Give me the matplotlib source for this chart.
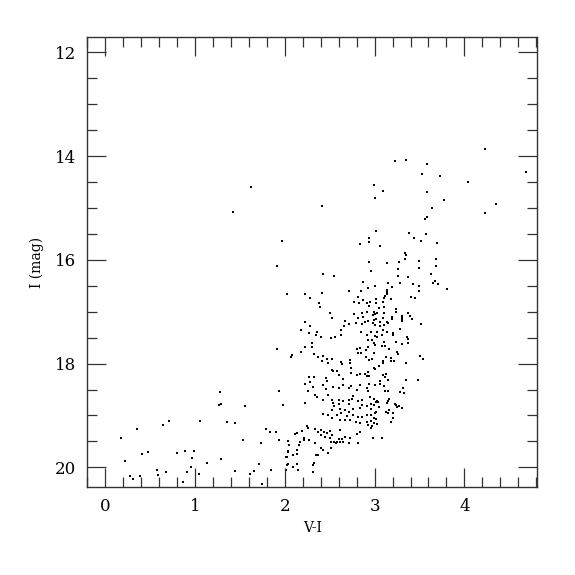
import matplotlib
matplotlib.use('Agg')
import matplotlib.pyplot as plt
from matplotlib.ticker import MultipleLocator

# upper giant branch / bright stars
bright = [(1.42,15.08),(1.62,14.60),(1.97,15.64),(2.41,14.97),(3.23,14.10),(3.35,14.08),(3.58,14.16),
	(3.53,14.35),(3.73,14.39),(4.23,13.87),(4.04,14.50),(4.69,14.31),(4.35,14.93),(4.23,15.10),(2.99,14.56),
	(3.09,14.68),(3.00,14.81),(3.58,14.70),(3.77,14.85),(3.64,15.00),(3.58,15.18),(3.56,15.22),(3.02,15.45),
	(2.94,15.58),(2.94,15.66),(2.84,15.70),(3.38,15.49),(3.44,15.58),(3.57,15.51),(3.52,15.64),(3.70,15.68),
	(3.06,15.74),(3.34,15.87),(3.35,15.91)]

# 16 - 17.25 mag
upper_rgb = [(3.34,15.99),(3.68,15.99),(2.94,16.05),(3.50,16.03),(3.14,16.07),(3.27,16.05),(3.68,16.12),
	(3.49,16.16),(3.26,16.18),(2.96,16.22),(3.63,16.28),(3.26,16.32),(3.37,16.34),(3.67,16.40),(3.65,16.45),
	(3.71,16.47),(3.81,16.57),(3.15,16.45),(3.28,16.45),(3.43,16.47),(3.49,16.51),(3.00,16.51),(3.19,16.53),
	(3.50,16.60),(3.14,16.59),(3.14,16.62),(3.14,16.66),(3.12,16.70),(3.18,16.76),(3.11,16.74),(3.40,16.72),
	(3.45,16.74),(3.02,16.76),(2.95,16.82),(3.02,16.84),(3.09,16.82),(3.10,16.91),(3.05,16.93),(2.99,17.01),
	(3.03,17.03),(3.01,17.05),(2.98,17.07),(3.10,17.03),(3.09,17.12),(3.02,17.14),(2.99,17.16),(3.06,17.20),
	(3.14,17.20),(3.19,17.10),(3.19,17.14),(3.24,16.95),(3.24,17.01),(3.30,17.09),(3.30,17.12),(3.30,17.16),
	(3.37,17.03),(3.39,17.09),(3.42,17.14),(3.52,17.24),(1.91,16.12),(2.02,16.66),(2.42,16.28),(2.55,16.32),
	(2.22,16.66),(2.28,16.74),(2.41,16.64),(2.38,16.84),(2.39,16.91),(2.87,16.43),(2.93,16.55),(2.71,16.60),
	(2.85,16.60),(2.81,16.72),(2.77,16.82),(2.83,16.84),(2.87,16.78),(2.92,16.84),(2.94,16.88),(2.50,17.03),
	(2.52,17.12),(2.77,17.05),(2.86,17.03),(2.87,17.10),(2.82,17.12),(2.92,17.01),(2.93,17.18),(2.67,17.18),
	(2.23,17.20),(2.89,17.20),(2.71,17.24)]

# red side, 17.2 - 19.5 mag
red_clump = [(2.98,17.22),(3.01,17.26),(3.06,17.28),(3.10,17.26),(3.15,17.22),(3.30,17.18),(2.96,17.39),
	(3.03,17.39),(3.09,17.36),(3.14,17.39),(3.20,17.41),(3.20,17.45),(3.28,17.34),(3.01,17.47),(3.08,17.45),
	(3.03,17.49),(3.36,17.49),(3.37,17.53),(2.97,17.55),(2.99,17.61),(3.10,17.59),(3.24,17.59),(3.31,17.63),
	(3.37,17.61),(3.01,17.65),(3.08,17.67),(3.12,17.67),(3.16,17.72),(2.99,17.80),(3.25,17.78),(3.26,17.82),
	(3.51,17.86),(3.54,17.92),(3.13,17.88),(3.18,17.90),(3.22,17.95),(2.97,17.92),(3.09,17.95),(3.09,17.99),
	(3.05,18.05),(3.18,17.95),(3.35,17.99),(2.99,18.09),(3.00,18.11),(3.09,18.22),(3.12,18.26),(3.13,18.20),
	(3.15,18.32),(3.06,18.34),(3.35,18.32),(3.48,18.32),(3.00,18.42),(3.06,18.40),(3.10,18.44),(3.32,18.48),
	(3.28,18.55),(3.33,18.57),(3.12,18.53),(3.15,18.53),(2.99,18.69),(3.03,18.72),(3.15,18.72),(3.16,18.69),
	(3.23,18.78),(3.02,18.74),(3.04,18.74),(2.96,18.78),(2.99,18.80),(3.05,18.84),(3.14,18.76),(3.24,18.80),
	(3.27,18.82),(3.25,18.84),(3.30,18.86),(3.13,18.94),(3.16,18.90),(3.20,18.96),(3.15,18.96),(2.96,18.88),
	(3.02,18.94),(3.00,18.96),(2.96,19.00),(2.99,19.05),(3.02,19.07),(2.96,19.11),(2.99,19.15),(3.03,19.17),
	(2.97,19.20),(2.96,19.24),(3.21,19.05),(3.18,19.13),(2.98,19.44),(3.08,19.44)]

# blue side of the branch, 17.2 - 18.8 mag
mid_rgb = [(2.28,17.28),(2.18,17.36),(2.27,17.41),(2.36,17.39),(2.40,17.49),(2.35,17.45),(2.51,17.51),
	(2.56,17.49),(2.63,17.45),(2.63,17.36),(2.66,17.28),(2.79,17.22),(2.86,17.24),(2.85,17.39),(2.91,17.45),
	(2.93,17.55),(2.22,17.68),(2.30,17.61),(2.30,17.68),(2.08,17.84),(2.07,17.88),(2.18,17.78),(2.33,17.82),
	(2.37,17.88),(2.43,17.86),(2.47,17.92),(2.52,17.92),(2.41,17.95),(2.48,17.99),(2.63,17.97),(2.64,18.01),
	(2.73,17.93),(2.73,17.99),(2.80,17.72),(2.84,17.70),(2.82,17.80),(2.85,17.80),(2.90,17.74),(2.93,17.68),
	(2.90,17.88),(2.94,17.93),(2.53,18.13),(2.54,18.15),(2.58,18.15),(2.60,18.22),(2.74,18.09),(2.74,18.18),
	(2.80,18.22),(2.84,18.20),(2.89,18.20),(2.91,18.24),(2.94,18.24),(2.93,18.17),(2.27,18.26),(2.32,18.26),
	(2.28,18.36),(2.23,18.40),(2.31,18.45),(2.26,18.53),(2.46,18.28),(2.47,18.34),(2.43,18.42),(2.46,18.49),
	(2.54,18.45),(2.65,18.30),(2.65,18.42),(2.60,18.47),(2.71,18.47),(2.74,18.44),(2.80,18.51),(2.84,18.42),
	(2.91,18.47),(2.94,18.40),(2.34,18.61),(2.36,18.65),(2.42,18.70),(2.48,18.61),(2.52,18.70),(2.60,18.70),
	(2.65,18.72),(2.71,18.70),(2.75,18.69),(2.81,18.72),(2.86,18.70),(2.95,18.65),(2.93,18.53),(2.76,18.63),
	(2.22,18.76),(1.91,17.72)]

# faint end of the branch
faint_rgb = [(1.98,18.80),(2.54,18.76),(2.55,18.82),(2.60,18.78),(2.71,18.78),(2.86,18.80),(2.91,18.82),
	(2.84,18.86),(2.76,18.88),(2.72,18.94),(2.67,18.90),(2.61,18.88),(2.52,18.90),(2.43,18.97),(2.48,18.99),
	(2.58,18.99),(2.63,18.96),(2.69,19.01),(2.76,18.99),(2.81,19.03),(2.86,19.03),(2.91,18.99),(2.92,19.13),
	(2.84,19.15),(2.79,19.13),(2.73,19.09),(2.67,19.09),(2.61,19.09),(2.52,19.05),(2.34,19.26),(2.25,19.20),
	(2.26,19.24),(2.37,19.32),(2.40,19.28),(2.40,19.38),(2.44,19.32),(2.47,19.34),(2.50,19.30),(2.45,19.42),
	(2.50,19.44),(2.53,19.38),(2.51,19.51),(2.55,19.51),(2.58,19.51),(2.60,19.46),(2.62,19.51),(2.64,19.46),
	(2.65,19.51),(2.57,19.53),(2.62,19.28),(2.67,19.42),(2.73,19.44),(2.71,19.53),(2.82,19.53),(2.80,19.36),
	(2.84,19.32),(2.93,19.19),(2.40,19.63),(2.43,19.67),(2.35,19.77),(2.37,19.77),(2.48,19.73),(2.51,19.63),
	(2.32,19.92),(2.31,19.96),(2.31,20.09),(2.15,20.05),(2.13,19.94),(2.09,20.00),(2.03,19.94),(2.01,19.80),
	(2.03,19.71),(2.09,19.77),(2.14,19.75),(2.13,19.67),(2.05,19.57),(2.11,19.36),(2.14,19.34),(2.17,19.51),
	(2.16,19.57),(2.21,19.48),(2.19,19.30),(2.21,19.44),(2.04,19.50),(2.34,19.53),(2.27,19.48)]

# blue stars
blue = [(1.28,18.55),(1.27,18.80),(1.29,18.78),(1.56,18.82),(1.94,18.53),(1.36,19.13),(1.45,19.15),
	(1.06,19.11),(0.71,19.11),(0.64,19.19),(0.35,19.26),(0.17,19.44),(0.22,19.88),(0.41,19.75),(0.48,19.71),
	(0.28,20.17),(0.31,20.23),(0.39,20.17),(0.58,20.05),(0.59,20.15),(0.68,20.09),(0.80,19.73),(0.87,20.28),
	(0.89,19.69),(0.91,20.09),(0.95,20.00),(0.97,19.82),(0.99,19.69),(1.04,20.13),(1.13,19.92),(1.29,19.84),
	(1.44,20.07),(1.53,19.48),(1.61,20.13),(1.66,20.07),(1.71,19.94),(1.73,19.53),(1.74,20.32),(1.79,19.26),
	(1.84,19.32),(1.85,20.05),(1.90,19.32),(1.93,19.48),(2.03,19.69),(2.02,19.80),(2.02,19.96),(2.01,20.05)]

plt.rcParams['font.family'] = 'DejaVu Serif'

fig = plt.figure(figsize=(5.75,5.75),dpi=100)
ax = fig.add_axes([0.152,0.153,0.782,0.782])
for grp in [bright,upper_rgb,red_clump,mid_rgb,faint_rgb,blue]:
	xs = [p[0] for p in grp]
	ys = [p[1] for p in grp]
	ax.scatter(xs,ys,s=3,marker='s',color='black',linewidths=0)

ax.set_xlim(-0.2,4.81)
ax.set_ylim(20.38,11.71)
ax.xaxis.set_major_locator(MultipleLocator(1))
ax.xaxis.set_minor_locator(MultipleLocator(0.2))
ax.yaxis.set_major_locator(MultipleLocator(2))
ax.yaxis.set_minor_locator(MultipleLocator(0.5))
ax.tick_params(which='both',direction='in',top=True,right=True,width=0.9,color='#333333')
ax.tick_params(which='major',length=13.5,labelsize=12,pad=8)
ax.tick_params(which='minor',length=7)
for s in ax.spines.values():
	s.set_linewidth(1.0)
	s.set_color('#333333')
ax.set_xlabel('V-I',fontsize=10,labelpad=4)
ax.set_ylabel('I (mag)',fontsize=10,labelpad=8)

fig.savefig('out.png',dpi=100)
